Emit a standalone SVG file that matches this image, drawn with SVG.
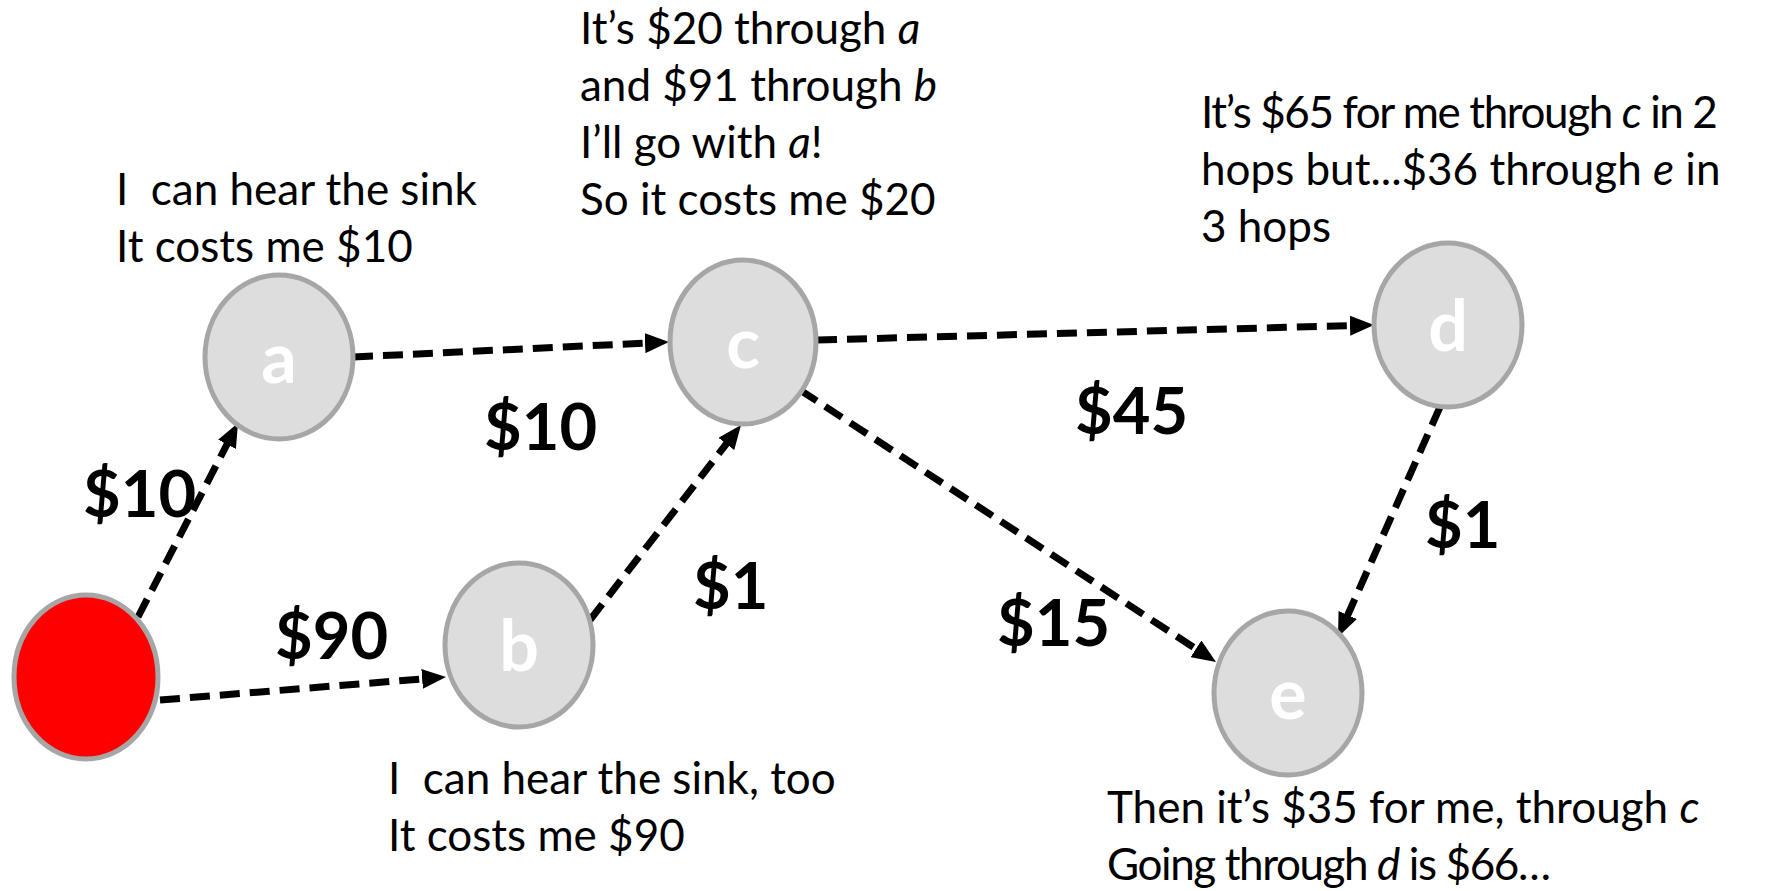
<svg xmlns="http://www.w3.org/2000/svg" width="1776" height="891" viewBox="0 0 1776 891">
  <style>
    .node { fill: #DDDDDD; stroke: #A6A6A6; stroke-width: 5; }
    .sink { fill: #FF0000; stroke: #A6A6A6; stroke-width: 5; }
    .letter { font-family: "Comic Sans MS", "Lato", sans-serif; font-weight: bold; font-size: 70px; fill: #FFFFFF; text-anchor: middle; }
    .edge { stroke: #000000; stroke-width: 7; stroke-dasharray: 20 10; fill: none; marker-end: url(#arrow); }
    .note { font-family: "Lato", "Liberation Sans", sans-serif; font-size: 44px; fill: #000000; }
    .tight { letter-spacing: -1.4px; }
    .cost { font-family: "Lato", "Liberation Sans", sans-serif; font-weight: bold; font-size: 65px; fill: #000000; }
    .it { font-style: italic; }
  </style>
  <defs>
    <marker id="arrow" markerUnits="userSpaceOnUse" markerWidth="24" markerHeight="20" refX="5" refY="10" orient="auto">
      <path d="M0,0 L24,10 L0,20 z" fill="#000000"/>
    </marker>
  </defs>

  <!-- connectors: each line stops 19px short of its arrow tip -->
  <g id="connectors">
    <line class="edge" x1="138" y1="617" x2="229.3" y2="439.9"/>
    <line class="edge" x1="160" y1="700" x2="427.1" y2="678.5"/>
    <line class="edge" x1="353" y1="357" x2="650.0" y2="342.9"/>
    <line class="edge" x1="590" y1="620" x2="729.4" y2="440.0"/>
    <line class="edge" x1="817" y1="340" x2="1355.0" y2="325.5"/>
    <line class="edge" x1="800" y1="390" x2="1200.1" y2="651.6"/>
    <line class="edge" x1="1440" y1="407" x2="1345.7" y2="619.6"/>
  </g>

  <!-- sink -->
  <g id="node-sink">
    <ellipse class="sink" cx="86" cy="677" rx="72" ry="82"/>
  </g>

  <g id="node-a">
    <ellipse class="node" cx="279" cy="357" rx="74" ry="82"/>
    <text class="letter" x="279" y="383">a</text>
  </g>

  <g id="node-b">
    <ellipse class="node" cx="519" cy="645" rx="74" ry="82"/>
    <text class="letter" x="519" y="671">b</text>
  </g>

  <g id="node-c">
    <ellipse class="node" cx="743" cy="342" rx="73" ry="82"/>
    <text class="letter" x="743" y="368">c</text>
  </g>

  <g id="node-d">
    <ellipse class="node" cx="1448" cy="325" rx="74" ry="82"/>
    <text class="letter" x="1448" y="351">d</text>
  </g>

  <g id="node-e">
    <ellipse class="node" cx="1288" cy="693" rx="74" ry="82"/>
    <text class="letter" x="1288" y="719">e</text>
  </g>

  <!-- link costs -->
  <g id="costs">
    <text class="cost" x="83" y="517">$10</text>
    <text class="cost" x="484" y="450">$10</text>
    <text class="cost" x="275" y="659">$90</text>
    <text class="cost" x="693" y="609">$1</text>
    <text class="cost" x="1075" y="434">$45</text>
    <text class="cost" x="997" y="646">$15</text>
    <text class="cost" x="1425" y="548">$1</text>
  </g>

  <!-- what each node says -->
  <g id="note-a">
    <text class="note" x="116" y="205" xml:space="preserve">I  can hear the sink</text>
    <text class="note" x="116" y="262">It costs me $10</text>
  </g>
  <g id="note-b">
    <text class="note" x="388" y="794" xml:space="preserve">I  can hear the sink, too</text>
    <text class="note" x="388" y="851">It costs me $90</text>
  </g>
  <g id="note-c">
    <text class="note" x="580" y="44">It’s $20 through <tspan class="it">a</tspan></text>
    <text class="note" x="580" y="101">and $91 through <tspan class="it">b</tspan></text>
    <text class="note" x="580" y="158">I’ll go with <tspan class="it">a</tspan>!</text>
    <text class="note" x="580" y="215">So it costs me $20</text>
  </g>
  <g id="note-d">
    <text class="note tight" x="1201" y="128">It’s $65 for me through <tspan class="it">c</tspan> in 2</text>
    <text class="note" x="1201" y="185">hops but...$36 through <tspan class="it">e</tspan> in</text>
    <text class="note" x="1201" y="242">3 hops</text>
  </g>
  <g id="note-e">
    <text class="note" x="1107" y="823">Then it’s $35 for me, through <tspan class="it">c</tspan></text>
    <text class="note tight" x="1107" y="880">Going through <tspan class="it">d</tspan> is $66…</text>
  </g>
</svg>
